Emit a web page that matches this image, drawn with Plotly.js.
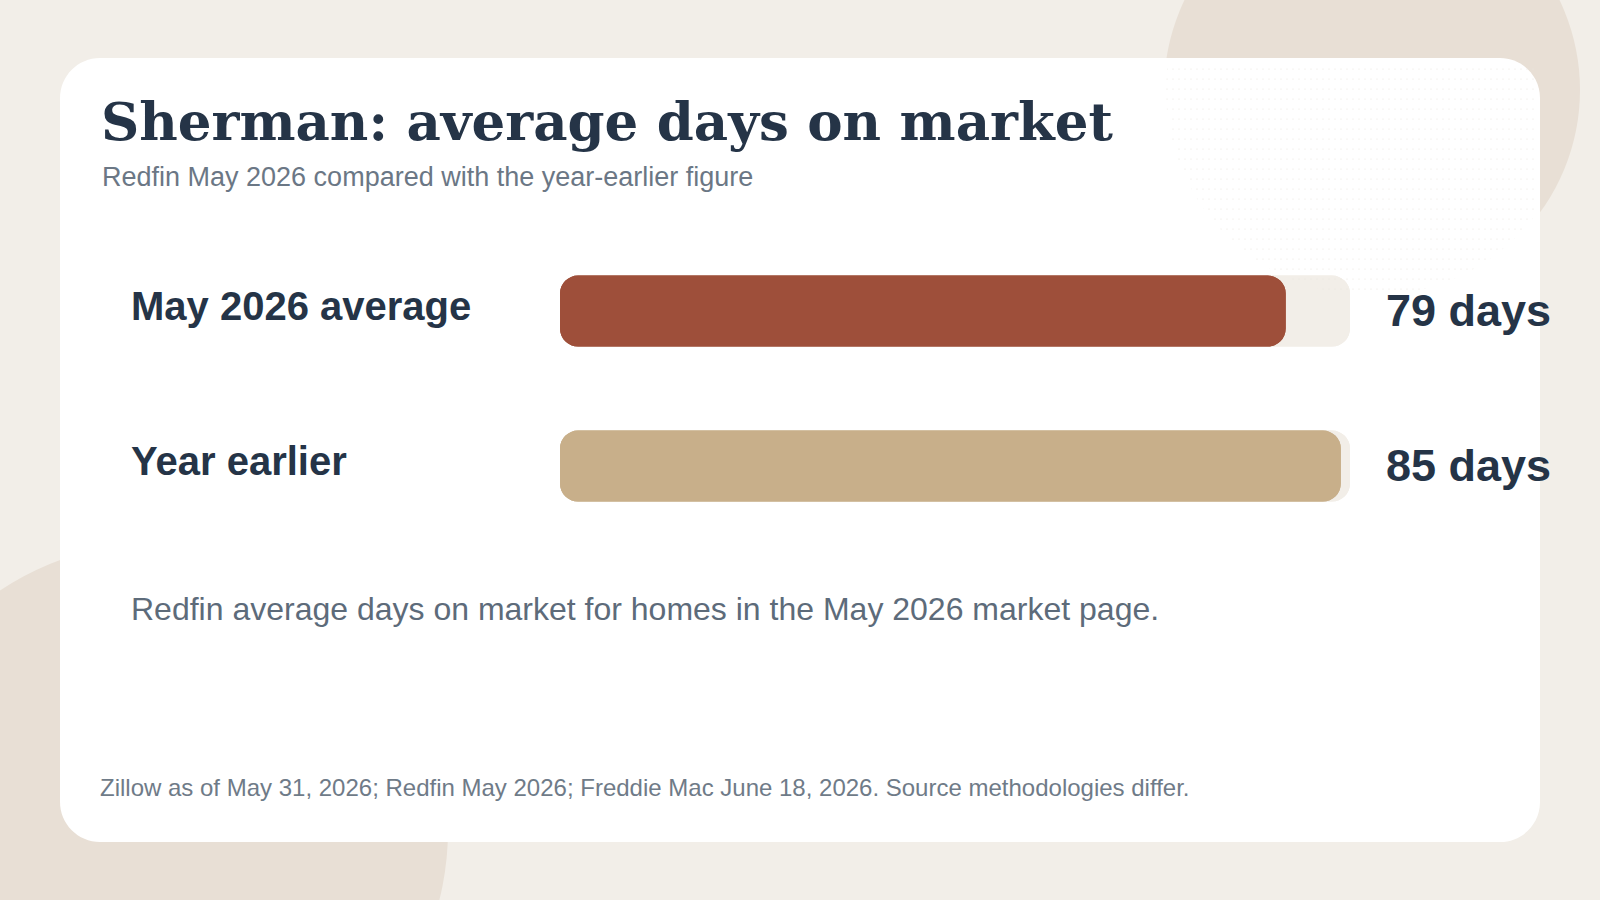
<!DOCTYPE html>
<html>
<head>
<meta charset="utf-8">
<script src="https://cdn.plot.ly/plotly-3.0.1.min.js"></script>
<style>
  html, body { margin: 0; padding: 0; background: #f2eee8; }
  #chart { width: 1600px; height: 900px; }
</style>
</head>
<body>
<div id="chart"></div>
<script>
// Data
const categories = ['May 2026 average', 'Year earlier'];
const daysOnMarket = [79, 85];
const barColors = ['#9e4f3a', '#c8af8a'];
const trackMax = 86;
const valueUnit = 'days';

const titleText = 'Sherman: average days on market';
const subtitleText = 'Redfin May 2026 compared with the year-earlier figure';
const noteText = 'Redfin average days on market for homes in the May 2026 market page.';
const sourceText = 'Zillow as of May 31, 2026; Redfin May 2026; Freddie Mac June 18, 2026. Source methodologies differ.';

// Page geometry helpers (pixel -> paper)
const W = 1600, H = 900;
const px = x => x / W;
const py = y => 1 - y / H;

const NAVY = '#253447';
const PAGE = '#f2eee8';
const BLOB = '#e8dfd5';
const SANS = 'Liberation Sans, Arial, sans-serif';

function roundedRectPath(x0, y0, x1, y1, r) {
  const k = 0.5523;
  const rx = r / W, ry = r / H;
  const L = px(x0), R = px(x1), T = py(y0), B = py(y1);
  return [
    `M${L + rx},${T}`,
    `L${R - rx},${T}`,
    `C${R - rx + rx * k},${T} ${R},${T - ry + ry * k} ${R},${T - ry}`,
    `L${R},${B + ry}`,
    `C${R},${B + ry - ry * k} ${R - rx + rx * k},${B} ${R - rx},${B}`,
    `L${L + rx},${B}`,
    `C${L + rx - rx * k},${B} ${L},${B + ry - ry * k} ${L},${B + ry}`,
    `L${L},${T - ry}`,
    `C${L},${T - ry + ry * k} ${L + rx - rx * k},${T} ${L + rx},${T}`,
    'Z'
  ].join(' ');
}

function circleShape(cx, cy, r, color) {
  return {
    type: 'circle', xref: 'paper', yref: 'paper', layer: 'below',
    x0: px(cx - r), x1: px(cx + r), y0: py(cy + r), y1: py(cy - r),
    fillcolor: color, line: { width: 0 }
  };
}

// Faint dot texture in the upper-right corner of the card
const dotSvg =
  '<svg xmlns="http://www.w3.org/2000/svg" width="1600" height="900" viewBox="0 0 1600 900">' +
  '<defs>' +
  '<pattern id="d" width="6" height="10" patternUnits="userSpaceOnUse">' +
  '<circle cx="3" cy="9" r="0.6" fill="#e7e2db"/></pattern>' +
  '<clipPath id="c"><circle cx="1372" cy="90" r="206"/></clipPath>' +
  '</defs>' +
  '<rect x="1160" y="64" width="376" height="240" fill="url(#d)" clip-path="url(#c)"/>' +
  '</svg>';

// Bars: each bar is drawn as two overlapping halves so both ends get rounded corners
const BAR_W = 0.458;
const RADIUS = 18;

function roundedBar(values, colors) {
  return [
    {
      type: 'bar', orientation: 'h', y: categories, x: values, base: 0,
      width: BAR_W, marker: { color: colors, cornerradius: RADIUS, line: { width: 0 } },
      hoverinfo: 'skip', cliponaxis: false, showlegend: false
    },
    {
      type: 'bar', orientation: 'h', y: categories, x: values.map(v => -v), base: values,
      width: BAR_W, marker: { color: colors, cornerradius: RADIUS, line: { width: 0 } },
      hoverinfo: 'skip', cliponaxis: false, showlegend: false
    }
  ];
}

const trackValues = categories.map(() => trackMax);
const data = [
  ...roundedBar(trackValues, PAGE),
  ...roundedBar(daysOnMarket, barColors)
];

const annotations = [
  {
    xref: 'paper', yref: 'paper', x: px(99), y: py(121),
    xanchor: 'left', yanchor: 'middle', showarrow: false,
    text: titleText,
    font: { family: 'DejaVu Serif, Georgia, serif', size: 53, color: NAVY, weight: 700 }
  },
  {
    xref: 'paper', yref: 'paper', x: px(100), y: py(177),
    xanchor: 'left', yanchor: 'middle', showarrow: false,
    text: subtitleText,
    font: { family: SANS, size: 27, color: '#6b7785' }
  },
  {
    xref: 'paper', yref: 'paper', x: px(129), y: py(609),
    xanchor: 'left', yanchor: 'middle', showarrow: false,
    text: noteText,
    font: { family: SANS, size: 32, color: '#5d6b7a' }
  },
  {
    xref: 'paper', yref: 'paper', x: px(98), y: py(787),
    xanchor: 'left', yanchor: 'middle', showarrow: false,
    text: sourceText,
    font: { family: SANS, size: 24, color: '#6f7b88' }
  }
];

categories.forEach((c, i) => {
  annotations.push({
    xref: 'paper', yref: 'y', x: px(129), y: c, yshift: 5,
    xanchor: 'left', yanchor: 'middle', showarrow: false,
    text: c,
    font: { family: SANS, size: 40, color: NAVY, weight: 700 }
  });
  annotations.push({
    xref: 'paper', yref: 'y', x: px(1384), y: c, yshift: 0,
    xanchor: 'left', yanchor: 'middle', showarrow: false,
    text: daysOnMarket[i] + ' ' + valueUnit,
    font: { family: SANS, size: 45, color: NAVY, weight: 700 }
  });
});

const layout = {
  width: W, height: H,
  margin: { l: 0, r: 0, t: 0, b: 0, pad: 0 },
  paper_bgcolor: PAGE,
  plot_bgcolor: 'rgba(0,0,0,0)',
  barmode: 'overlay',
  showlegend: false,
  xaxis: {
    range: [0, trackMax], domain: [px(560), px(1350)],
    visible: false, fixedrange: true, showgrid: false, zeroline: false
  },
  yaxis: {
    type: 'category', categoryorder: 'array', categoryarray: categories,
    range: [1.5, -0.5], domain: [py(543.5), py(233.5)],
    visible: false, fixedrange: true, showgrid: false, zeroline: false
  },
  shapes: [
    circleShape(1372, 90, 208, BLOB),
    circleShape(160, 830, 288, BLOB),
    {
      type: 'path', xref: 'paper', yref: 'paper', layer: 'below',
      path: roundedRectPath(60, 58, 1540, 842, 40),
      fillcolor: '#ffffff', line: { width: 0 }
    }
  ],
  images: [
    {
      source: 'data:image/svg+xml;charset=utf-8,' + encodeURIComponent(dotSvg),
      xref: 'paper', yref: 'paper', x: 0, y: 1, sizex: 1, sizey: 1,
      xanchor: 'left', yanchor: 'top', sizing: 'stretch', layer: 'above'
    }
  ],
  annotations: annotations
};

Plotly.newPlot('chart', data, layout, { displayModeBar: false, staticPlot: true, responsive: false });
</script>
</body>
</html>
